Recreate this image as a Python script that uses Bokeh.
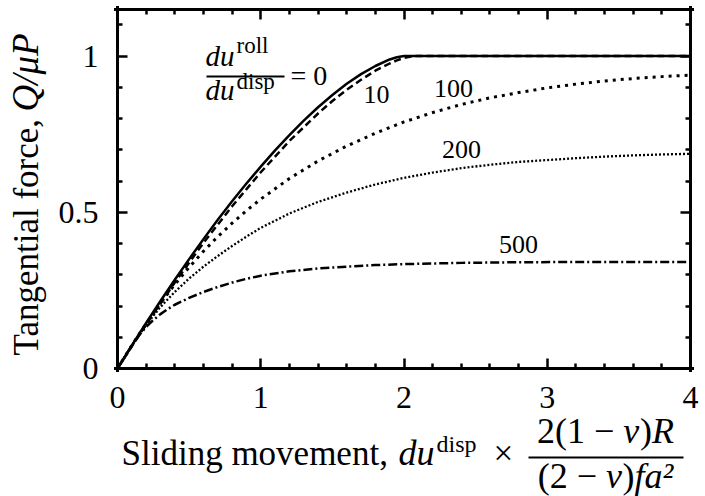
import math
from bokeh.plotting import figure
from bokeh.models import (FixedTicker, CustomJSTickFormatter, LinearAxis, Label,
                          Arrow, ColumnDataSource)
from bokeh.core.properties import value
from bokeh.embed import file_html
from bokeh.resources import INLINE

# ---------------- data ----------------
x_r0 = [0.0, 0.1, 0.2, 0.3, 0.4, 0.5, 0.6, 0.7, 0.8, 0.9, 1.0, 1.1, 1.2, 1.3, 1.4,
        1.5, 1.6, 1.7, 1.8, 1.9, 1.95, 2.0, 4.0]
y_r0 = [0.0, 0.074, 0.146, 0.216, 0.284, 0.350, 0.414, 0.476, 0.535, 0.592, 0.646,
        0.698, 0.747, 0.793, 0.836, 0.875, 0.911, 0.942, 0.968, 0.989, 0.996, 1.0, 1.0]

x_r10 = [0.0, 0.2, 0.4, 0.6, 0.8, 1.0, 1.2, 1.4, 1.5, 1.6, 1.7, 1.8, 1.9, 1.95,
         2.0, 2.03, 2.07, 4.0]
y_r10 = [0.0, 0.141, 0.275, 0.402, 0.519, 0.628, 0.728, 0.816, 0.856, 0.892, 0.924,
         0.953, 0.976, 0.986, 0.994, 0.997, 1.0, 1.0]

x_r100 = [0.0, 0.1, 0.2, 0.3, 0.4, 0.5, 0.6, 0.7, 0.8, 0.9, 1.0, 1.2, 1.4, 1.6, 1.8,
          2.0, 2.2, 2.4, 2.6, 2.8, 3.0, 3.2, 3.4, 3.6, 3.8, 4.0]
y_r100 = [0.0, 0.074, 0.144, 0.209, 0.269, 0.324, 0.375, 0.422, 0.465, 0.505, 0.542,
          0.608, 0.664, 0.712, 0.753, 0.789, 0.819, 0.845, 0.866, 0.883, 0.898, 0.910,
          0.920, 0.928, 0.934, 0.939]

x_r200 = [0.0, 0.1, 0.2, 0.3, 0.4, 0.5, 0.6, 0.7, 0.8, 0.9, 1.0, 1.2, 1.4, 1.6, 1.8,
          2.0, 2.2, 2.4, 2.6, 2.8, 3.0, 3.2, 3.4, 3.6, 3.8, 4.0]
y_r200 = [0.0, 0.073, 0.140, 0.197, 0.245, 0.288, 0.326, 0.360, 0.392, 0.422, 0.450,
          0.496, 0.533, 0.563, 0.589, 0.610, 0.627, 0.641, 0.652, 0.661, 0.667, 0.673,
          0.678, 0.682, 0.685, 0.687]

x_r500 = [0.0, 0.05, 0.1, 0.15, 0.2, 0.25, 0.3, 0.35, 0.4, 0.5, 0.6, 0.7, 0.8, 0.9,
          1.0, 1.2, 1.4, 1.6, 1.8, 2.0, 2.4, 2.8, 3.2, 3.6, 4.0]
y_r500 = [0.0, 0.037, 0.073, 0.106, 0.133, 0.155, 0.174, 0.190, 0.204, 0.226, 0.245,
          0.261, 0.275, 0.287, 0.297, 0.311, 0.320, 0.326, 0.331, 0.334, 0.338, 0.340,
          0.341, 0.341, 0.341]

curve_names = ["10", "100", "200", "500"]
x_ticks = [0, 1, 2, 3, 4]
x_minor = [0.2, 0.4, 0.6, 0.8, 1.2, 1.4, 1.6, 1.8, 2.2, 2.4, 2.6, 2.8, 3.2, 3.4, 3.6, 3.8]
y_ticks = [0, 0.5, 1]
y_minor = [0.1, 0.2, 0.3, 0.4, 0.6, 0.7, 0.8, 0.9, 1.1]
X_MIN, X_MAX = 0.0, 4.0
Y_MIN, Y_MAX = 0.0, 1.15

# ---------------- layout helpers ----------------
FONT = "Liberation Serif"
W, H = 705, 496
X_PX0, X_UNIT = 117.0, 143.25   # canvas px of x=0, px per unit
Y_PX0, Y_UNIT = 368.0, 312.5    # canvas px of y=0, px per unit
K_BASE = 0.34                   # baseline correction, in em


def dx(px):
    return (px - X_PX0) / X_UNIT


def dy(py):
    return (Y_PX0 - py) / Y_UNIT


ROM = {' ': .25, '(': .333, ')': .333, '−': .564, '×': .564, '=': .564, ',': .25,
       '/': .278, 'S': .556, 'l': .278, 'i': .278, 'd': .5, 'n': .5, 'g': .5,
       'm': .778, 'o': .5, 'v': .5, 'e': .444, 't': .278, 'T': .611, 'a': .444,
       'f': .333, 'r': .333, 'c': .444, 's': .389, 'p': .5}
ITA = {'ν': .46, 'R': .611, 'f': .278, 'a': .5, 'd': .5, 'u': .5, 'Q': .722,
       '/': .278, 'μ': .5, 'P': .611, '²': .3}


def width(s, italic, size):
    tab = ITA if italic else ROM
    return sum(tab.get(c, .5) for c in s) * size


# the frame covers the whole canvas; the axes are drawn at fixed positions
p = figure(width=W, height=H, x_range=(dx(0), dx(W)), y_range=(dy(H), dy(0)),
           min_border=0, toolbar_location=None, output_backend="svg",
           x_axis_type=None, y_axis_type=None)
p.xgrid.visible = False
p.ygrid.visible = False
p.outline_line_color = None
p.background_fill_color = "white"
p.border_fill_color = "white"

xt = FixedTicker(ticks=x_ticks, minor_ticks=x_minor)
yt = FixedTicker(ticks=y_ticks, minor_ticks=y_minor)
fmt = CustomJSTickFormatter(code="return tick.toString()")
blank = CustomJSTickFormatter(code="return ''")
xb = (X_MIN - 0.011, X_MAX + 0.011)
yb = (Y_MIN - 0.005, Y_MAX + 0.005)


def make_axis(ticker, loc, bounds, show):
    ax = LinearAxis(ticker=ticker, formatter=fmt if show else blank,
                    fixed_location=loc, bounds=bounds)
    ax.axis_line_width = 3
    ax.axis_line_color = "black"
    ax.axis_line_cap = "square"
    ax.major_tick_in = 10
    ax.major_tick_out = 0
    ax.minor_tick_in = 5
    ax.minor_tick_out = 0
    ax.major_tick_line_width = 2.5
    ax.minor_tick_line_width = 2.5
    ax.major_tick_line_color = "black"
    ax.minor_tick_line_color = "black"
    ax.major_label_text_font = FONT
    ax.major_label_text_color = "black"
    ax.major_label_text_font_size = "32px"
    if not show:
        ax.major_label_standoff = 0
    return ax


bx = make_axis(xt, Y_MIN, xb, True)
bx.major_label_standoff = 18
p.add_layout(bx, "below")
ly = make_axis(yt, X_MIN, yb, True)
ly.major_label_standoff = 19
p.add_layout(ly, "left")
p.add_layout(make_axis(xt, Y_MAX, xb, False), "above")
p.add_layout(make_axis(yt, X_MAX, yb, False), "right")

# ---------------- curves ----------------
p.line(x_r0, y_r0, line_color="black", line_width=2.5)
p.line(x_r10, y_r10, line_color="black", line_width=2.5, line_dash="7 4")
p.line(x_r100, y_r100, line_color="black", line_width=3, line_dash="3 5")
p.line(x_r200, y_r200, line_color="black", line_width=2.3, line_dash="2 2")
p.line(x_r500, y_r500, line_color="black", line_width=2.5, line_dash="9 3 2 3")

# curve labels
CL = 26
lab_src = ColumnDataSource(dict(
    text=curve_names,
    x=[dx(376), dx(453), dx(461), dx(518)],
    y=[dy(b - K_BASE * CL) for b in (102.7, 96.7, 158.3, 252.7)],
))
p.text(x="x", y="y", text="text", source=lab_src, text_font=value(FONT),
       text_font_size=f"{CL}px", text_align="center", text_baseline="alphabetic",
       text_color="black")


def lab(text, px, py, size, italic=False, rotated=False):
    if rotated:
        px = px - K_BASE * size
    else:
        py = py - K_BASE * size
    p.add_layout(Label(x=dx(px), y=dy(py), text=text, text_font=FONT,
                       text_font_size=f"{size}px",
                       text_font_style="italic" if italic else "normal",
                       text_align="left", text_baseline="alphabetic",
                       text_color="black",
                       angle=math.pi / 2 if rotated else 0.0))


def bar(px0, px1, py, w=2):
    p.add_layout(Arrow(start=None, end=None, x_start=dx(px0), y_start=dy(py),
                       x_end=dx(px1), y_end=dy(py), line_width=w,
                       line_color="black"))


def centered_runs(runs, cx, py, size):
    total = sum(width(t, it, size) for t, it in runs)
    x = cx - total / 2
    for t, it in runs:
        lab(t, x, py, size, italic=it)
        x += width(t, it, size)


# in-plot ratio label  du^roll / du^disp = 0
lab("du", 205, 65, 29, italic=True)
lab("roll", 236, 53, 23)
bar(206, 284, 76)
lab("du", 205, 99, 29, italic=True)
lab("disp", 236, 89, 23)
lab("= 0", 290, 85, 28)

# y axis title (rotated, reading upwards)
lab("Tangential force, ", 38, 355, 35, rotated=True)
lab("Q/μP", 38, 111, 37, italic=True, rotated=True)

# x axis title
BASE = 465
lab("Sliding movement, ", 121, BASE, 35)
lab("du", 398, BASE, 36, italic=True)
lab("disp", 436, BASE - 13, 24)
lab("×", 493, BASE, 35)
FRAC_C = 605
centered_runs([("2(1 − ", False), ("ν", True), (")", False), ("R", True)],
              FRAC_C, 443, 36)
bar(528, 683, 457)
centered_runs([("(2 − ", False), ("ν", True), (")", False), ("fa²", True)],
              FRAC_C, 488, 36)

open("out.html", "w").write(file_html(p, INLINE))
